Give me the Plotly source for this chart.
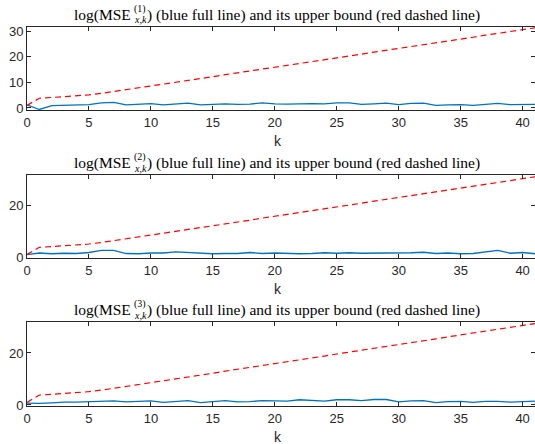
import plotly.graph_objects as go

k = list(range(42))

bound = [1.0, 3.8, 4.1, 4.4, 4.7, 5.1, 5.7, 6.4, 7.1, 7.8, 8.6, 9.3, 10.0, 10.8,
         11.5, 12.2, 13.0, 13.7, 14.4, 15.2, 15.9, 16.6, 17.4, 18.1, 18.8, 19.6,
         20.3, 21.0, 21.8, 22.5, 23.2, 24.0, 24.7, 25.4, 26.2, 26.9, 27.6, 28.4,
         29.1, 29.8, 30.6, 31.3]

mse1 = [1.2, -0.6, 0.9, 1.0, 1.2, 1.3, 2.0, 2.2, 1.2, 1.5, 1.7, 1.2, 1.5, 1.9,
        1.2, 1.4, 1.6, 1.4, 1.5, 2.0, 1.6, 1.5, 1.7, 1.7, 1.6, 2.0, 2.0, 1.4,
        1.6, 1.9, 1.3, 1.8, 1.9, 1.0, 1.2, 1.3, 1.0, 1.5, 1.8, 1.3, 1.3, 1.4]

mse2 = [1.0, 1.6, 1.3, 1.5, 1.4, 1.8, 2.6, 2.6, 1.4, 1.3, 1.6, 1.6, 2.0, 1.8,
        1.4, 1.3, 1.4, 1.4, 1.8, 1.4, 1.6, 1.4, 1.3, 1.4, 1.7, 1.5, 1.7, 1.5,
        1.5, 1.5, 1.5, 1.7, 1.9, 1.4, 1.6, 1.3, 1.4, 1.9, 2.6, 1.5, 1.8, 1.3]

mse3 = [0.7, 0.6, 0.8, 1.1, 1.1, 1.2, 1.4, 1.6, 1.2, 1.3, 1.6, 1.0, 1.3, 1.7,
        0.9, 1.3, 1.7, 1.2, 1.3, 1.7, 1.5, 1.5, 2.0, 1.7, 1.5, 2.0, 2.0, 1.7,
        2.1, 2.1, 1.2, 1.6, 1.7, 0.9, 1.3, 1.4, 1.0, 1.4, 1.4, 1.1, 1.3, 1.5]

series = [mse1, mse2, mse3]
labels = ["(1)", "(2)", "(3)"]
x_ticks = [0, 5, 10, 15, 20, 25, 30, 35, 40]
y_ticks = [[0, 10, 20, 30], [0, 20], [0, 20]]
y_ranges = [[-0.8, 31.6], [-0.35, 32.0], [-0.4, 31.9]]

W, H = 535, 444
# pixel layout of each panel: (top, bottom)
panels = [(27, 110), (175, 258), (322, 406)]
title_y = [15, 163, 310]
klabel_y = [141, 289, 437]
x_left, x_right = 27, 535

AX = "#262626"
fig = go.Figure()
for i in range(3):
    n = "" if i == 0 else str(i + 1)
    top, bot = panels[i]
    fig.add_trace(go.Scatter(x=k, y=series[i], mode="lines",
                             line=dict(color="#0072BD", width=1.3),
                             xaxis="x" + n, yaxis="y" + n, showlegend=False))
    fig.add_trace(go.Scatter(x=k, y=bound, mode="lines",
                             line=dict(color="#FF0000", width=1.2, dash="6px,4px"),
                             xaxis="x" + n, yaxis="y" + n, showlegend=False))
    common = dict(showline=True, linecolor=AX, linewidth=1, mirror="allticks",
                  ticks="inside", ticklen=4, tickcolor=AX, showgrid=False,
                  zeroline=False, automargin=False,
                  tickfont=dict(family="Liberation Sans", size=13, color=AX))
    fig.update_layout(**{
        "xaxis" + n: dict(domain=[x_left / W, x_right / W], range=[0, 41],
                          tickvals=x_ticks, anchor="y" + n, **common),
        "yaxis" + n: dict(domain=[1 - bot / H, 1 - top / H], range=y_ranges[i],
                          tickvals=y_ticks[i], anchor="x" + n, **common),
    })
    # title built from pieces so the super/subscript can stack
    P = 132
    ty = 1 - title_y[i] / H
    tf = dict(family="Liberation Serif", size=15.5, color="black")
    sf = dict(family="Liberation Serif", size=10, color="black")
    base = dict(xref="paper", yref="paper", yanchor="middle", showarrow=False,
                borderpad=0, y=ty, x=P / W)
    fig.add_annotation(text="log(MSE", xanchor="right", font=tf, **base)
    fig.add_annotation(text=labels[i], xanchor="left", yshift=6, xshift=1,
                       font=sf, **base)
    fig.add_annotation(text="<i>x,k</i>", xanchor="left", yshift=-5, xshift=1,
                       font=sf, **base)
    fig.add_annotation(text=") (blue full line) and its upper bound (red dashed line)",
                       xanchor="left", xshift=14, font=tf, **base)
    fig.add_annotation(text="k", x=(x_left + x_right) / 2 / W - 0.006,
                       y=1 - klabel_y[i] / H, xref="paper", yref="paper",
                       xanchor="center", yanchor="middle", showarrow=False,
                       font=dict(family="Liberation Sans", size=14, color=AX))

fig.update_layout(width=W, height=H, margin=dict(l=0, r=0, t=0, b=0),
                  plot_bgcolor="white", paper_bgcolor="white")
fig.write_html("out.html", config={"displayModeBar": False},
               post_script="document.body.style.margin='0';"
                           "document.body.style.overflow='hidden';")
